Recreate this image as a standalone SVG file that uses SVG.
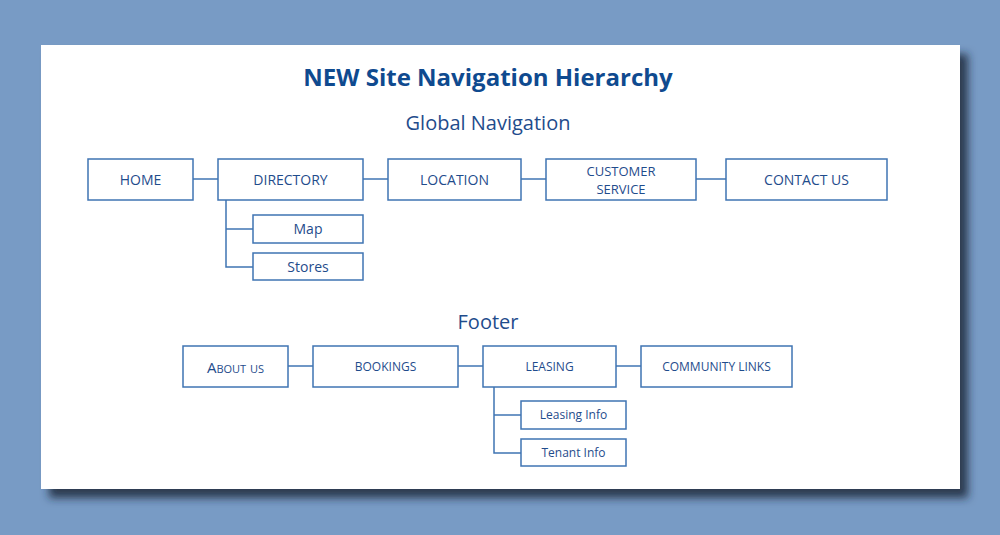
<svg xmlns="http://www.w3.org/2000/svg" width="1000" height="535" viewBox="0 0 1000 535">
  <defs>
    <filter id="panelShadow" x="-5%" y="-5%" width="115%" height="120%">
      <feGaussianBlur in="SourceAlpha" stdDeviation="4"/>
      <feOffset dx="8" dy="9" result="b"/>
      <feFlood flood-color="#1e2a3c" flood-opacity="0.85"/>
      <feComposite in2="b" operator="in"/>
      <feMerge><feMergeNode/><feMergeNode in="SourceGraphic"/></feMerge>
    </filter>
    <style>
      .box { fill: #ffffff; stroke: #3f74b3; stroke-width: 1.5; }
      .wire { fill: none; stroke: #3f74b3; stroke-width: 1.5; }
      .lbl { font-family: "Open Sans", "Liberation Sans", sans-serif; fill: #1f4c8c; text-anchor: middle; dominant-baseline: central; }
      .main { font-size: 14px; }
      .two { font-size: 13px; }
      .foot { font-size: 12px; }
      .sub { font-size: 14px; }
      .subf { font-size: 12px; }
      .title { font-family: "Open Sans", "Liberation Sans", sans-serif; font-weight: bold; font-size: 24px; fill: #0f4a8f; text-anchor: middle; }
      .heading { font-family: "Open Sans", "Liberation Sans", sans-serif; font-size: 20px; fill: #1f4c8c; text-anchor: middle; }
    </style>
  </defs>

  <!-- backdrop and card -->
  <rect x="0" y="0" width="1000" height="535" fill="#789bc5"/>
  <rect x="41" y="45" width="919" height="444" fill="#ffffff" filter="url(#panelShadow)"/>

  <!-- headings -->
  <text class="title" x="488" y="86">NEW Site Navigation Hierarchy</text>
  <text class="heading" x="488" y="130">Global Navigation</text>
  <text class="heading" x="488" y="329">Footer</text>

  <!-- connectors -->
  <g id="connectors">
    <line class="wire" x1="193" y1="179" x2="218" y2="179"/>
    <line class="wire" x1="363" y1="179" x2="388" y2="179"/>
    <line class="wire" x1="521" y1="179" x2="546" y2="179"/>
    <line class="wire" x1="696" y1="179" x2="726" y2="179"/>
    <polyline class="wire" points="226,200 226,267 253,267"/>
    <line class="wire" x1="226" y1="229" x2="253" y2="229"/>

    <line class="wire" x1="288" y1="366" x2="313" y2="366"/>
    <line class="wire" x1="458" y1="366" x2="483" y2="366"/>
    <line class="wire" x1="616" y1="366" x2="641" y2="366"/>
    <polyline class="wire" points="494,387 494,453 521,453"/>
    <line class="wire" x1="494" y1="415" x2="521" y2="415"/>
  </g>

  <!-- global navigation -->
  <g id="home"><rect class="box" x="88" y="159" width="105" height="41"/><text class="lbl main" x="140.5" y="179">HOME</text></g>
  <g id="directory"><rect class="box" x="218" y="159" width="145" height="41"/><text class="lbl main" x="290.5" y="179">DIRECTORY</text></g>
  <g id="location"><rect class="box" x="388" y="159" width="133" height="41"/><text class="lbl main" x="454.5" y="179">LOCATION</text></g>
  <g id="customer-service"><rect class="box" x="546" y="159" width="150" height="41"/>
    <text class="lbl two" x="621" y="170.5">CUSTOMER</text><text class="lbl two" x="621" y="188.5">SERVICE</text></g>
  <g id="contact-us"><rect class="box" x="726" y="159" width="161" height="41"/><text class="lbl main" x="806.5" y="179">CONTACT US</text></g>
  <g id="map"><rect class="box" x="253" y="215" width="110" height="28"/><text class="lbl sub" x="308" y="228.5">Map</text></g>
  <g id="stores"><rect class="box" x="253" y="253" width="110" height="27"/><text class="lbl sub" x="308" y="266.5">Stores</text></g>

  <!-- footer -->
  <g id="about-us"><rect class="box" x="183" y="346" width="105" height="41"/><text class="lbl" x="235.5" y="366.5" style="font-size: 15px; font-variant: small-caps;">About us</text></g>
  <g id="bookings"><rect class="box" x="313" y="346" width="145" height="41"/><text class="lbl foot" x="385.5" y="366">BOOKINGS</text></g>
  <g id="leasing"><rect class="box" x="483" y="346" width="133" height="41"/><text class="lbl foot" x="549.5" y="366">LEASING</text></g>
  <g id="community-links"><rect class="box" x="641" y="346" width="151" height="41"/><text class="lbl foot" x="716.5" y="366">COMMUNITY LINKS</text></g>
  <g id="leasing-info"><rect class="box" x="521" y="401" width="105" height="28"/><text class="lbl subf" x="573.5" y="414.5">Leasing Info</text></g>
  <g id="tenant-info"><rect class="box" x="521" y="439" width="105" height="27"/><text class="lbl subf" x="573.5" y="452">Tenant Info</text></g>
</svg>
